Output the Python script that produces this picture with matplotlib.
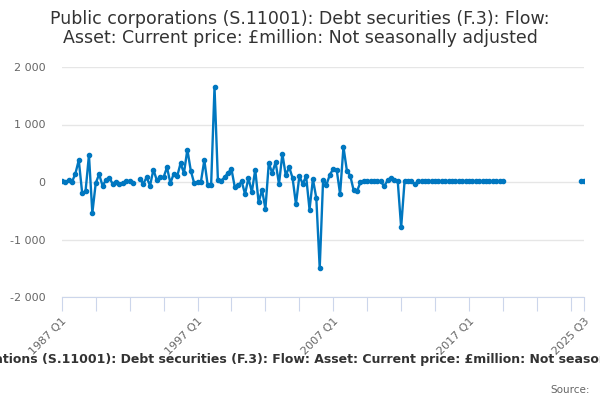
import numpy as np
import matplotlib
matplotlib.use("Agg")
import matplotlib.pyplot as plt

nan = np.nan

# quarterly periods 1987 Q1 .. 2025 Q3
years = list(range(1987, 2026))
quarters = [f"{y} Q{q}" for y in years for q in range(1, 5)][:155]

values = [
    10, 0, 30, 0, 145, 380, -190, -160, 470, -540,
    -20, 135, -65, 30, 75, -35, 5, -40, -20, 15,
    15, -25, nan, 50, -30, 80, -65, 215, 30, 80,
    85, 255, -20, 145, 100, 325, 155, 565, 200, -20,
    -5, 5, 380, -60, -60, 1650, 35, 25, 80, 165,
    220, -95, -60, 10, -210, 70, -175, 215, -355, -135,
    -465, 330, 155, 345, -35, 490, 115, 260, 70, -385,
    100, -30, 100, -480, 50, -280, -1500, 40, -45, 130,
    225, 215, -210, 610, 200, 110, -145, -160, -5, 25,
    10, 15, 10, 15, 10, -75, 30, 65, 30, 10,
    -790, 10, 10, 10, -40, 10, 10, 10, 10, 10,
    10, 10, 10, 10, 10, 10, 10, 10, 10, 10,
    10, 10, 10, 10, 10, 10, 10, 10, 10, 10,
    10, nan, nan, nan, nan, nan, nan, nan, nan, nan,
    nan, nan, nan, nan, nan, nan, nan, nan, nan, nan,
    nan, nan, nan, 10, 10,
]

tick_labels = ["1987 Q1", "1997 Q1", "2007 Q1", "2017 Q1", "2025 Q3"]
yticks = [-2000, -1000, 0, 1000, 2000]
ytick_labels = ["-2 000", "-1 000", "0", "1 000", "2 000"]

title = ("Public corporations (S.11001): Debt securities (F.3): Flow: "
         "Asset: Current price: £million: Not seasonally adjusted")

fig = plt.figure(figsize=(6, 4), dpi=100)
ax = fig.add_axes([0.103, 0.2575, 0.871, 0.575])

x = np.arange(len(quarters))
ax.plot(x, values, color="#0077c0", lw=1.7, marker="o", ms=3.0, zorder=3)

ax.set_xlim(0, len(quarters) - 1)
ax.set_ylim(-2000, 2000)
ax.set_yticks(yticks)
ax.set_yticklabels(ytick_labels)
ax.yaxis.grid(True, color="#e6e6e6", lw=1)
ax.set_axisbelow(True)

# tick every 10 quarters plus the last period
minor = list(range(0, len(quarters), 10)) + [len(quarters) - 1]
ax.set_xticks(minor)
ax.set_xticklabels([quarters[i] if quarters[i] in tick_labels else "" for i in minor],
                   rotation=45, ha="right", rotation_mode="anchor")
ax.tick_params(axis="x", length=10, color="#ccd6eb", labelsize=8, labelcolor="#666666", pad=4)
ax.tick_params(axis="y", length=0, labelsize=8, labelcolor="#666666", pad=12)

for s in ["top", "right", "left"]:
    ax.spines[s].set_visible(False)
ax.spines["bottom"].set_color("#ccd6eb")

fig.text(0.5, 0.975, "Public corporations (S.11001): Debt securities (F.3): Flow:\n"
         "Asset: Current price: £million: Not seasonally adjusted",
         ha="center", va="top", fontsize=12.5, color="#333333", linespacing=1.1)
fig.text(0.5, 0.1, title, ha="center", va="center", fontsize=9,
         fontweight="bold", color="#333333")
fig.text(0.983, 0.025, "Source:", ha="right", va="center", fontsize=7.5, color="#666666")

fig.savefig("out.png", dpi=100)
